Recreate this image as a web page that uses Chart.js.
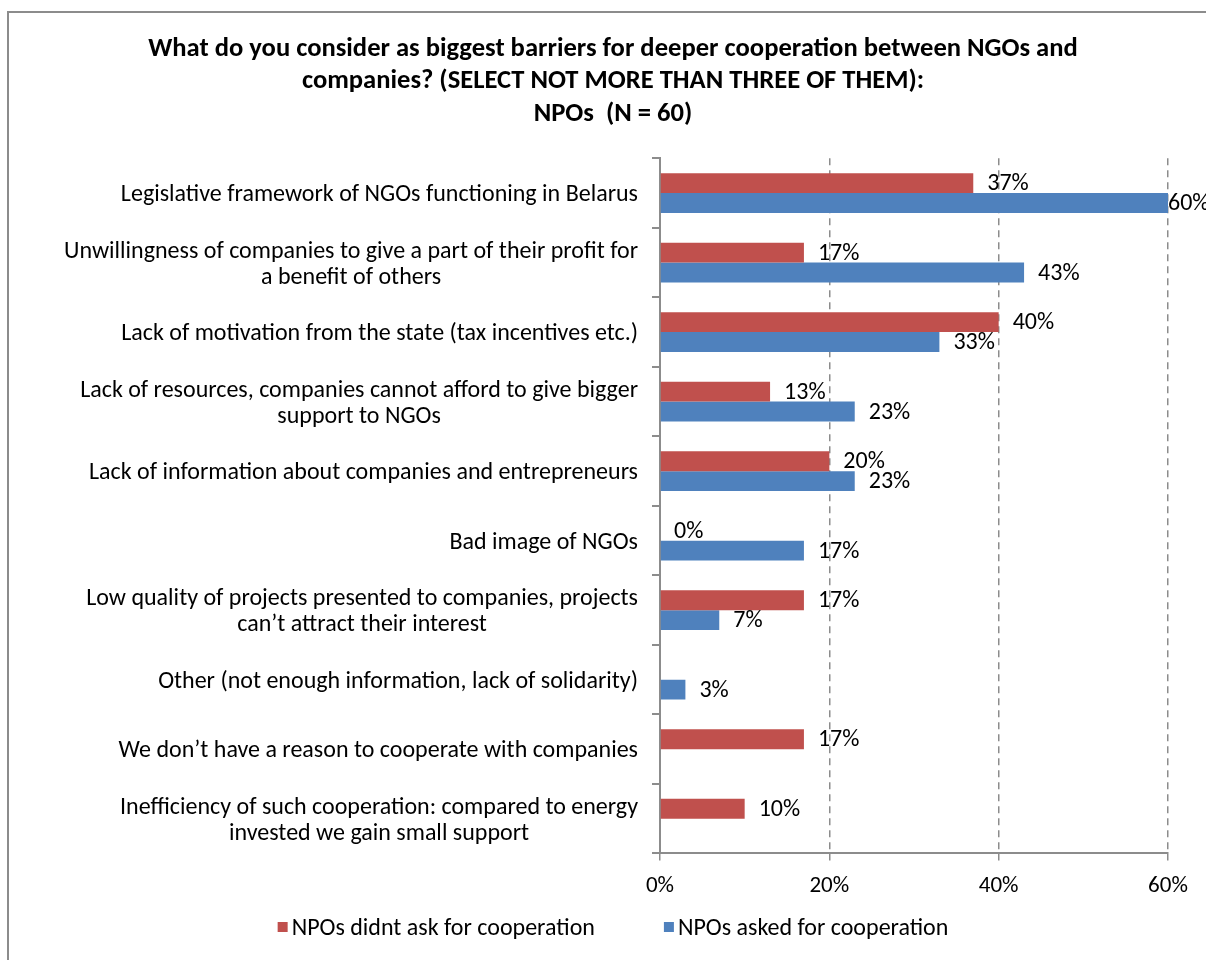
<!DOCTYPE html>
<html>
<head>
<meta charset="utf-8">
<script src="https://cdn.jsdelivr.net/npm/chart.js@4.4.1/dist/chart.umd.min.js"></script>
<style>
  html, body { margin: 0; padding: 0; background: #fff; overflow: hidden; }
  #wrap { position: relative; width: 1206px; height: 960px; }
  #frame { position: absolute; left: 7px; top: 11px; width: 1240px; height: 1000px; border: 2px solid #8c8c8c; box-sizing: border-box; }
  #chart { position: absolute; left: 0; top: 0; }
</style>
</head>
<body>
<div id="wrap">
  <div id="frame"></div>
  <canvas id="chart" width="1206" height="960"></canvas>
</div>
<script>
// Barrier categories (multi-line ones are split the way they wrap)
const categories = [
    'Legislative framework of NGOs functioning in Belarus',
    ['Unwillingness of companies to give a part of their profit for', 'a benefit of others'],
    'Lack of motivation from the state (tax incentives etc.)',
    ['Lack of resources, companies cannot afford to give bigger', 'support to NGOs'],
    'Lack of information about companies and entrepreneurs',
    'Bad image of NGOs',
    ['Low quality of projects presented to companies, projects', 'can\u2019t attract their interest'],
    'Other (not enough information, lack of solidarity)',
    'We don\u2019t have a reason to cooperate with companies',
    ['Inefficiency of such cooperation: compared to energy', 'invested we gain small support']
];

// Share of answers, %
const didntAsk = [37, 17, 40, 13, 20, 0, 17, null, 17, 10];
const asked = [60, 43, 33, 23, 23, 17, 7, 3, null, null];

const seriesNames = ['NPOs didnt ask for cooperation', 'NPOs asked for cooperation'];
const xTicks = [0, 20, 40, 60];

const titleLines = [
    'What do you consider as biggest barriers for deeper cooperation between NGOs and',
    'companies? (SELECT NOT MORE THAN THREE OF THEM):',
    'NPOs  (N = 60)'
];

const FONT = "Carlito, 'Liberation Sans Narrow', 'Liberation Sans', sans-serif";
const RED = '#C0504D';
const BLUE = '#4F81BD';
const AXIS = '#8c8c8c';

// category labels: block right-aligned to the axis, lines centred inside it
const yLabels = {
    id: 'yLabels',
    afterDraw(chart) {
        const ctx = chart.ctx;
        const y = chart.scales.y;
        const right = chart.chartArea.left - 22;
        const lh = 26;
        ctx.save();
        ctx.font = '24px ' + FONT;
        ctx.fillStyle = '#000';
        ctx.textAlign = 'center';
        ctx.textBaseline = 'middle';
        categories.forEach((c, i) => {
            const lines = Array.isArray(c) ? c : [c];
            const w = Math.max(...lines.map(l => ctx.measureText(l).width));
            const cy = y.getPixelForValue(i);
            lines.forEach((l, k) => {
                ctx.fillText(l, right - w / 2, cy + (k - (lines.length - 1) / 2) * lh + 2);
            });
        });
        ctx.restore();
    }
};

// value labels just past the end of each bar
const valueLabels = {
    id: 'valueLabels',
    afterDatasetsDraw(chart) {
        const ctx = chart.ctx;
        const area = chart.chartArea;
        ctx.save();
        ctx.font = '24px ' + FONT;
        ctx.fillStyle = '#000';
        ctx.textAlign = 'left';
        ctx.textBaseline = 'middle';
        chart.data.datasets.forEach((ds, di) => {
            chart.getDatasetMeta(di).data.forEach((bar, i) => {
                const v = ds.data[i];
                if (v === null) return;
                const x = Math.min(bar.x + 14, area.right);
                ctx.fillText(v + '%', x, bar.y + 1);
            });
        });
        ctx.restore();
    }
};

// legend below the axis
const bottomLegend = {
    id: 'bottomLegend',
    afterDraw(chart) {
        const ctx = chart.ctx;
        const colors = [RED, BLUE];
        const box = 10, gap = 4, spacing = 69;
        ctx.save();
        ctx.font = '24px ' + FONT;
        ctx.textBaseline = 'middle';
        ctx.textAlign = 'left';
        const widths = seriesNames.map(n => box + gap + ctx.measureText(n).width);
        const total = widths[0] + spacing + widths[1];
        const cx = (chart.titleBlock.left + chart.titleBlock.right) / 2;
        let x = cx - total / 2;
        const y = 927;
        seriesNames.forEach((n, i) => {
            ctx.fillStyle = colors[i];
            ctx.fillRect(x, y - box / 2, box, box);
            ctx.fillStyle = '#000';
            ctx.fillText(n, x + box + gap, y + 2);
            x += widths[i] + spacing;
        });
        ctx.restore();
    }
};

new Chart(document.getElementById('chart'), {
    type: 'bar',
    data: {
        labels: categories,
        datasets: [{
            label: seriesNames[0],
            data: didntAsk,
            backgroundColor: RED,
            categoryPercentage: 0.57,
            barPercentage: 1
        }, {
            label: seriesNames[1],
            data: asked,
            backgroundColor: BLUE,
            categoryPercentage: 0.57,
            barPercentage: 1
        }]
    },
    options: {
        indexAxis: 'y',
        responsive: false,
        animation: false,
        layout: { padding: { left: 58, right: 38, top: 16, bottom: 48 } },
        plugins: {
            legend: { display: false },
            tooltip: { enabled: false },
            title: {
                display: true,
                text: titleLines,
                color: '#000',
                font: { family: FONT, size: 26.6, weight: 'bold', lineHeight: 1.22 },
                padding: { top: 17, bottom: 28 }
            }
        },
        scales: {
            x: {
                min: 0,
                max: 60,
                afterBuildTicks: s => { s.ticks = xTicks.map(v => ({ value: v })); },
                ticks: {
                    color: '#000',
                    font: { family: FONT, size: 23 },
                    padding: 12,
                    callback: v => v + '%'
                },
                grid: {
                    color: ctx => ctx.tick && ctx.tick.value === 0 ? 'rgba(0,0,0,0)' : AXIS,
                    tickColor: AXIS,
                    tickLength: 7,
                    lineWidth: 1.5
                },
                border: { color: AXIS, width: 2, dash: [7, 5] }
            },
            y: {
                afterFit: s => { s.width = 660 - 58; },
                ticks: { display: false },
                grid: {
                    drawOnChartArea: false,
                    offset: true,
                    tickLength: 8,
                    tickColor: AXIS,
                    lineWidth: 2
                },
                border: { color: AXIS, width: 2 }
            }
        }
    },
    plugins: [yLabels, valueLabels, bottomLegend]
});
</script>
</body>
</html>
